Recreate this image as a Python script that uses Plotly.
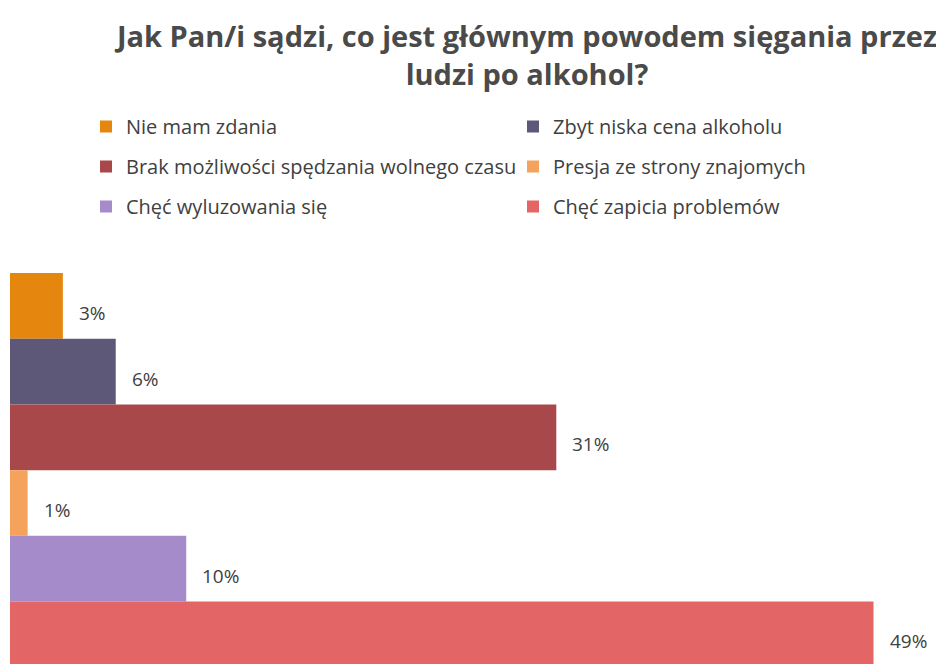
import plotly.graph_objects as go

categories = ["Nie mam zdania", "Zbyt niska cena alkoholu",
              "Brak możliwości spędzania wolnego czasu", "Presja ze strony znajomych",
              "Chęć wyluzowania się", "Chęć zapicia problemów"]
values = [3, 6, 31, 1, 10, 49]
colors = ["#E5870F", "#5D5878", "#A9484B", "#F5A25C", "#A68BCB", "#E36565"]
legend_rows = ["legend", "legend", "legend2", "legend2", "legend3", "legend3"]

FONT = "Open Sans"
W, H = 936, 656
fig = go.Figure()
for i, (name, v, c, lg) in enumerate(zip(categories, values, colors, legend_rows)):
    fig.add_trace(go.Bar(
        x=[v], y=[i], orientation="h", name=name, width=1,
        marker=dict(color=c, line=dict(width=0)), legend=lg,
        hoverinfo="skip"))
    fig.add_annotation(x=v, y=i, text=f"{v}%", showarrow=False,
                       xanchor="left", xshift=14, yshift=-7,
                       font=dict(family=FONT, size=19, color="#404040"))

legend_common = dict(orientation="h", xref="container", yref="container",
                     xanchor="left", yanchor="top", entrywidth=382,
                     font=dict(family=FONT, size=20, color="#404040"),
                     itemwidth=30, bgcolor="rgba(0,0,0,0)", traceorder="normal")
fig.update_layout(
    width=W, height=H,
    margin=dict(l=2, r=0, t=265, b=0, autoexpand=False),
    plot_bgcolor="white", paper_bgcolor="white",
    barmode="overlay",
    title=dict(text="<b>Jak Pan/i sądzi, co jest głównym powodem sięgania przez<br>ludzi po alkohol?</b>",
               x=519 / W, xanchor="center", y=1 - 39 / H, yanchor="top",
               font=dict(family=FONT, size=29, color="#4A4A4A")),
    legend=dict(x=78 / W, y=1 - 99 / H, **legend_common),
    legend2=dict(x=78 / W, y=1 - 139 / H, **legend_common),
    legend3=dict(x=78 / W, y=1 - 179 / H, **legend_common),
    xaxis=dict(range=[0, 53], visible=False, fixedrange=True),
    yaxis=dict(range=[5.45, -0.5], visible=False, fixedrange=True),
    showlegend=True,
)
fig.write_html("out.html")
